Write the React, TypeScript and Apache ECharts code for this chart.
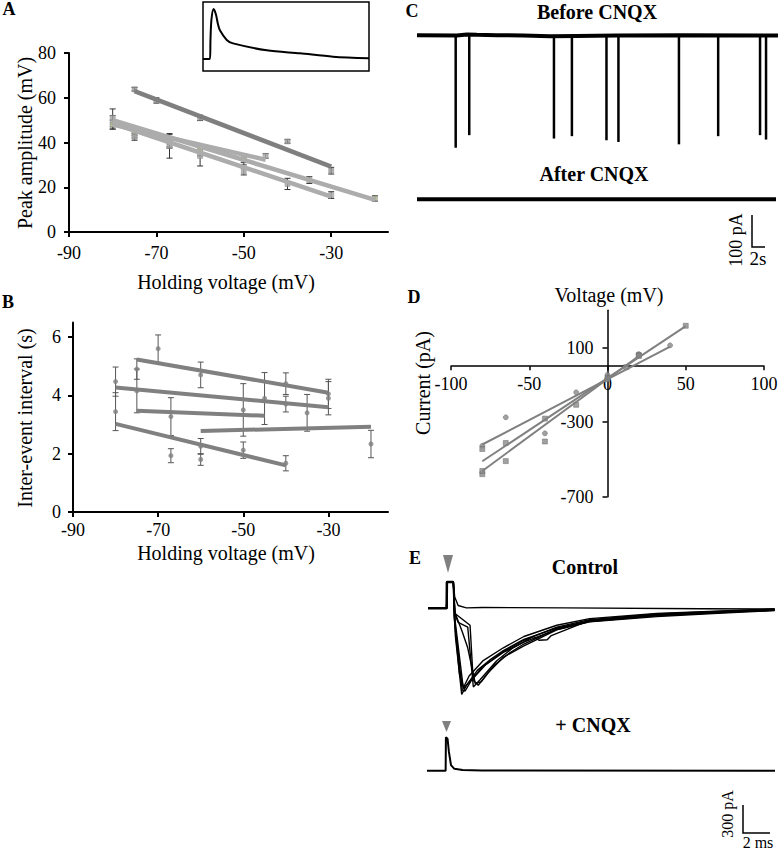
import React, { useEffect, useRef } from "react";
import * as echarts from "echarts";

const FONT = "'Liberation Serif', 'Times New Roman', serif";

// ---------- Panel A: peak amplitude (mV) vs holding voltage (mV) ----------
const aTicksX = [-90, -70, -50, -30];
const a1X = [-75, -70, -60, -40, -30];
const a1Y = [63.8, 58.8, 51, 40.5, 27.4];
const a1E = [0.8, 1.2, 1.2, 0.8, 1.5];
const a1Fit = [[-75, 63], [-30, 29.2]];

const a2X = [-80, -75, -67, -60, -50, -45];
const a2Y = [51, 44, 40.5, 36.5, 33, 34];
const a2E = [4, 2, 3, 2.5, 2, 1];
const a2Fit = [[-80, 48], [-45, 32.3]];

const a3X = [-80, -75, -67, -60, -50, -40, -30];
const a3Y = [49, 42.5, 38.5, 34, 27, 21.5, 16.5];
const a3E = [3, 1.5, 5.5, 4.5, 1.5, 2.5, 1.5];
const a3Fit = [[-80, 48.6], [-30, 15.8]];

const a4X = [-80, -75, -67, -60, -50, -35, -20];
const a4Y = [48, 45, 40, 37, 32.5, 23.2, 15];
const a4E = [2, 2, 2, 2, 2.5, 1.5, 1.2];
const a4Fit = [[-80, 50], [-20, 14.4]];

// inset: example response (arbitrary units)
const insetT = [0, 4.2, 4.5, 5.1, 6.4, 7.8, 9, 10.2, 14.3, 18.1, 38.4, 58.4, 78.3, 100];
const insetV = [17.4, 17.4, 45, 75, 90, 82, 68, 59, 45, 40, 30, 25.6, 20.8, 18.4];

// ---------- Panel B: inter-event interval (s) ----------
const bTicksY = [0, 2, 4, 6];
const b1X = [-75, -70, -60, -40, -30];
const b1Y = [4.9, 5.6, 4.7, 4.4, 4.05];
const b1E = [0.35, 0.47, 0.44, 0.37, 0.5];
const b1Fit = [[-75, 5.23], [-30, 4.09]];

const b2X = [-80, -75, -50, -40, -30];
const b2Y = [4.47, 4.15, 3.5, 3.7, 3.9];
const b2E = [0.5, 0.75, 0.9, 0.27, 0.57];
const b2Fit = [[-80, 4.27], [-30, 3.59]];

const b3X = [-67, -45];
const b3Y = [3.27, 3.89];
const b3E = [0.65, 0.89];
const b3Fit = [[-75, 3.47], [-45, 3.3]];

const b4X = [-80, -67, -60, -50, -40];
const b4Y = [3.44, 1.93, 2.25, 2.12, 1.67];
const b4E = [0.65, 0.24, 0.27, 0.28, 0.26];
const b4Fit = [[-80, 3.02], [-40, 1.6]];

const b5X = [-60, -35, -20];
const b5Y = [1.8, 3.4, 2.33];
const b5E = [0.2, 0.63, 0.47];
const b5Fit = [[-60, 2.78], [-20, 2.92]];

// ---------- Panel C: spontaneous currents (time s, current pA) ----------
const cEventTimes = [5.82, 7.86, 20.6, 23.3, 28.5, 30.3, 39.4, 45.3, 51.6, 52.5];
const cEventAmps = [331, 294, 304, 297, 309, 314, 321, 297, 294, 307];
const cBaseline = [[0, 0], [6, -1], [7.5, 2], [9, 1], [12, 0], [16, -1], [20, -3], [24, -2], [30, -1], [40, 0], [54.3, -1]];
const cAfter = [[0, 0], [54, 0]];

// ---------- Panel D: I-V relation ----------
const dTicksY = [-700, -300, 100];
const dV1 = [-80, -65, -40, -20, 0, 20, 40];
const dI1 = [-427, -274, -360, -140, -46, 65, 112];
const dFit1 = [[-80, -420], [40, 105]];
const dV2 = [-80, -65, -40, -20, 0, 20, 50];
const dI2 = [-444, -412, -281, -207, -63, 60, 217];
const dFit2 = [[-80, -510], [50, 215]];
const dV3 = [-80, -80, -65, -40, 0, 12, 20];
const dI3 = [-579, -562, -509, -404, -70, -5, 55];
const dFit3 = [[-80, -562], [20, 55]];

// ---------- Panel E: evoked currents (time ms, current pA) ----------
const eArtifact = [[0, 0], [1.36, 0], [1.38, 280], [1.85, 280]];
const eTraces = [
  [[1.9, 0], [2.0, -300], [2.46, -915], [2.8, -820], [3.6, -660], [4.6, -540], [5.5, -450], [7.0, -330], [9.4, -210], [11.8, -135], [16.7, -70], [21.5, -40], [25.3, -18]],
  [[1.95, -100], [2.58, -854], [3.0, -790], [4.0, -620], [5.5, -470], [7.0, -360], [9.4, -225], [11.8, -140], [16.7, -80], [21.5, -45], [25.3, -20]],
  [[1.97, -56], [3.07, -181], [3.3, -766], [3.67, -819], [4.3, -700], [5.5, -520], [7.0, -400], [9.4, -230], [11.8, -143], [16.7, -89], [21.5, -50], [25.3, -25]],
  [[1.97, -60], [2.2, -150], [2.9, -200], [3.31, -837], [3.8, -760], [5.0, -560], [6.2, -420], [7.7, -300], [8.1, -340], [8.7, -335], [9.0, -290], [11.8, -128], [16.7, -75], [21.5, -40], [25.3, -15]],
  [[2.0, -200], [2.5, -870], [2.7, -880], [3.2, -760], [4.2, -600], [5.5, -460], [7.0, -340], [9.4, -200], [11.8, -120], [16.7, -60], [21.5, -30], [25.3, -10]],
  [[1.95, -40], [2.5, -250], [2.9, -420], [3.45, -800], [3.9, -780], [4.8, -610], [6.0, -470], [7.0, -380], [9.4, -220], [11.8, -130], [16.7, -70], [21.5, -35], [25.3, -12]],
  [[1.9, -80], [2.3, -700], [2.6, -840], [3.0, -720], [4.0, -560], [5.5, -420], [7.0, -300], [9.4, -180], [11.8, -110], [16.7, -55], [21.5, -28], [25.3, -8]],
  [[1.95, 120], [2.2, 30], [2.8, 5], [4, 8], [10, 5], [20, -5], [25.3, -8]],
];
const eCnqx = [[0, 0], [1.36, 0], [1.38, 355], [1.5, 340], [1.6, 200], [1.75, 60], [2.0, 20], [2.6, 8], [4, 3], [25.4, 0]];

const zip3 = (xs: number[], ys: number[], es: number[]) => xs.map((x, i) => [x, ys[i], es[i]]);
const zip2 = (xs: number[], ys: number[]) => xs.map((x, i) => [x, ys[i]]);

const errRender = (color: string, cap: number) => (params: any, api: any) => {
  const x = api.value(0), y = api.value(1), e = api.value(2);
  const p1 = api.coord([x, y + e]);
  const p2 = api.coord([x, y - e]);
  const st = { stroke: color, lineWidth: 1 };
  return {
    type: "group",
    children: [
      { type: "line", shape: { x1: p1[0], y1: p1[1], x2: p2[0], y2: p2[1] }, style: st },
      { type: "line", shape: { x1: p1[0] - cap, y1: p1[1], x2: p1[0] + cap, y2: p1[1] }, style: st },
      { type: "line", shape: { x1: p2[0] - cap, y1: p2[1], x2: p2[0] + cap, y2: p2[1] }, style: st },
    ],
  };
};

const axisLbl = (extra: any = {}) => ({ fontFamily: FONT, fontSize: 18, color: "#000", ...extra });
const hidden = (gridIndex: number, min: number, max: number) => ({ type: "value", gridIndex, min, max, show: false, splitLine: { show: false } });

// Panel D grid geometry (axes cross at 0,0)
const D_LEFT = 451, D_TOP = 310.3, D_W = 313, D_H = 186.4;
const D_XMIN = -100, D_XMAX = 100, D_YMIN = -700, D_YMAX = 300;

function buildOption() {
  const series: any[] = [];
  // Panel A
  const aGroups = [
    { x: a1X, y: a1Y, e: a1E, fit: a1Fit, line: "#7f7f7f", mk: "#9a9a9a" },
    { x: a2X, y: a2Y, e: a2E, fit: a2Fit, line: "#acacac", mk: "#a8a8a8" },
    { x: a3X, y: a3Y, e: a3E, fit: a3Fit, line: "#acacac", mk: "#a8a8a8" },
    { x: a4X, y: a4Y, e: a4E, fit: a4Fit, line: "#acacac", mk: "#a9b98a" },
  ];
  aGroups.forEach((g) => {
    series.push({ type: "custom", xAxisIndex: 0, yAxisIndex: 0, data: zip3(g.x, g.y, g.e), renderItem: errRender("#333", 3), encode: { x: 0, y: 1 }, z: 2, silent: true });
    series.push({ type: "scatter", xAxisIndex: 0, yAxisIndex: 0, data: zip2(g.x, g.y), symbol: "rect", symbolSize: 5, itemStyle: { color: g.mk, borderColor: "#888", borderWidth: 0.6 }, z: 3, silent: true });
  });
  aGroups.forEach((g) => {
    series.push({ type: "line", xAxisIndex: 0, yAxisIndex: 0, data: g.fit, symbol: "none", lineStyle: { color: g.line, width: 4.5 }, z: 4, silent: true });
  });
  // inset
  series.push({ type: "line", xAxisIndex: 1, yAxisIndex: 1, data: zip2(insetT, insetV), symbol: "none", smooth: 0.3, lineStyle: { color: "#000", width: 2 }, silent: true });

  // Panel B
  const bGroups = [
    { x: b1X, y: b1Y, e: b1E, fit: b1Fit },
    { x: b2X, y: b2Y, e: b2E, fit: b2Fit },
    { x: b3X, y: b3Y, e: b3E, fit: b3Fit },
    { x: b4X, y: b4Y, e: b4E, fit: b4Fit },
    { x: b5X, y: b5Y, e: b5E, fit: b5Fit },
  ];
  bGroups.forEach((g) => {
    series.push({ type: "custom", xAxisIndex: 2, yAxisIndex: 2, data: zip3(g.x, g.y, g.e), renderItem: errRender("#555", 3), encode: { x: 0, y: 1 }, z: 2, silent: true });
    series.push({ type: "scatter", xAxisIndex: 2, yAxisIndex: 2, data: zip2(g.x, g.y), symbol: "circle", symbolSize: 5, itemStyle: { color: "#7f7f7f" }, z: 3, silent: true });
    series.push({ type: "line", xAxisIndex: 2, yAxisIndex: 2, data: g.fit, symbol: "none", lineStyle: { color: "#808080", width: 4 }, z: 4, silent: true });
  });

  // Panel C
  series.push({ type: "line", xAxisIndex: 3, yAxisIndex: 3, data: cBaseline, symbol: "none", lineStyle: { color: "#000", width: 4 }, silent: true });
  series.push({ type: "bar", xAxisIndex: 3, yAxisIndex: 3, data: zip2(cEventTimes, cEventAmps.map((a) => -a)), barWidth: 2.5, itemStyle: { color: "#000" }, silent: true });
  series.push({ type: "line", xAxisIndex: 4, yAxisIndex: 4, data: cAfter, symbol: "none", lineStyle: { color: "#000", width: 4 }, silent: true });

  // Panel D
  const dGroups = [
    { v: dV1, i: dI1, fit: dFit1, sym: "circle" },
    { v: dV2, i: dI2, fit: dFit2, sym: "rect" },
    { v: dV3, i: dI3, fit: dFit3, sym: "rect" },
  ];
  dGroups.forEach((g) => {
    series.push({ type: "line", xAxisIndex: 5, yAxisIndex: 5, data: g.fit, symbol: "none", lineStyle: { color: "#808080", width: 2 }, silent: true });
    series.push({ type: "scatter", xAxisIndex: 5, yAxisIndex: 5, data: zip2(g.v, g.i), symbol: g.sym, symbolSize: 5, itemStyle: { color: "#8a8a8a", borderColor: "#666", borderWidth: 0.6 }, silent: true });
  });

  // Panel E
  eTraces.forEach((tr) => {
    series.push({ type: "line", xAxisIndex: 6, yAxisIndex: 6, data: [...eArtifact, ...tr], symbol: "none", lineStyle: { color: "#000", width: 1.4 }, silent: true });
  });
  series.push({ type: "line", xAxisIndex: 6, yAxisIndex: 6, data: eArtifact, symbol: "none", lineStyle: { color: "#000", width: 2.5 }, silent: true });
  series.push({ type: "line", xAxisIndex: 7, yAxisIndex: 7, data: eCnqx, symbol: "none", lineStyle: { color: "#000", width: 2 }, silent: true });

  const txt = (text: string, x: number, y: number, size: number, bold = false, rot = 0) => ({
    type: "text",
    x,
    y,
    rotation: rot,
    silent: true,
    style: { text, fill: "#000", font: `${bold ? "bold " : ""}${size}px ${FONT}`, align: "center", verticalAlign: "middle" },
  });

  const graphic: any[] = [
    txt("A", 9, 9, 18, true),
    txt("B", 8, 302, 18, true),
    txt("C", 412, 11, 18, true),
    txt("D", 414, 297, 18, true),
    txt("E", 415, 558, 18, true),
    txt("Peak amplitude (mV)", 25, 143, 20, false, Math.PI / 2),
    txt("Holding voltage (mV)", 226, 282, 20),
    txt("Inter-event interval (s)", 25, 418, 20, false, Math.PI / 2),
    txt("Holding voltage (mV)", 226, 553, 20),
    txt("Before CNQX", 597, 12, 20, true),
    txt("After CNQX", 594, 174, 20, true),
    txt("100 pA", 736, 240, 18, false, Math.PI / 2),
    txt("2s", 758, 258, 19),
    txt("Voltage (mV)", 609, 295, 20),
    txt("Current (pA)", 423, 383, 20, false, Math.PI / 2),
    txt("Control", 585, 567, 20, true),
    txt("+ CNQX", 593, 725, 20, true),
    txt("300 pA", 727, 814, 16, false, Math.PI / 2),
    txt("2 ms", 758, 842, 16),
    { type: "polyline", silent: true, shape: { points: [[752, 215], [752, 247], [765, 247]] }, style: { stroke: "#000", lineWidth: 1.5, fill: null } },
    { type: "polyline", silent: true, shape: { points: [[743, 805], [743, 833], [770, 833]] }, style: { stroke: "#000", lineWidth: 1.5, fill: null } },
    { type: "polygon", silent: true, shape: { points: [[443, 555], [453, 555], [448, 573]] }, style: { fill: "#808080" } },
    { type: "polygon", silent: true, shape: { points: [[442, 721], [451, 721], [446.5, 732]] }, style: { fill: "#808080" } },
  ];

  // offsets that move D's axes onto the zero of the other axis
  const dXOffset = -D_H * (0 - D_YMIN) / (D_YMAX - D_YMIN);
  const dYOffset = -D_W * (0 - D_XMIN) / (D_XMAX - D_XMIN);

  const gridBase = { containLabel: false, outerBoundsMode: "none" };
  return {
    animation: false,
    backgroundColor: "#fff",
    grid: [
      { ...gridBase, left: 69, top: 53, width: 319, height: 179 },
      { ...gridBase, left: 203, top: 2, width: 166, height: 69, show: true, borderColor: "#000", borderWidth: 1.5, backgroundColor: "transparent" },
      { ...gridBase, left: 73, top: 322.4, width: 315, height: 189.6 },
      { ...gridBase, left: 417, top: 25, width: 361, height: 136 },
      { ...gridBase, left: 417, top: 189.3, width: 359, height: 20 },
      { ...gridBase, left: D_LEFT, top: D_TOP, width: D_W, height: D_H },
      { ...gridBase, left: 428, top: 575.4, width: 347, height: 126.9 },
      { ...gridBase, left: 427, top: 730.3, width: 348, height: 49.8 },
    ],
    xAxis: [
      {
        type: "value", gridIndex: 0, min: -90, max: -17,
        axisLine: { show: true, onZero: false, lineStyle: { color: "#000", width: 2 } },
        axisTick: { show: true, length: 5, customValues: aTicksX, lineStyle: { color: "#000", width: 2 } },
        axisLabel: axisLbl({ customValues: aTicksX, margin: 12 }),
        splitLine: { show: false },
      },
      hidden(1, 0, 100),
      {
        type: "value", gridIndex: 2, min: -90, max: -16,
        axisLine: { show: true, onZero: false, lineStyle: { color: "#000", width: 2 } },
        axisTick: { show: true, length: 5, customValues: aTicksX, lineStyle: { color: "#000", width: 2 } },
        axisLabel: axisLbl({ customValues: aTicksX, margin: 9 }),
        splitLine: { show: false },
      },
      hidden(3, 0, 54.3),
      hidden(4, 0, 54),
      {
        type: "value", gridIndex: 5, min: D_XMIN, max: D_XMAX, interval: 50,
        position: "bottom", offset: dXOffset,
        axisLine: { show: true, onZero: false, lineStyle: { color: "#000", width: 1.5 } },
        axisTick: { show: true, length: 4, lineStyle: { color: "#000", width: 1.5 } },
        axisLabel: axisLbl({ margin: 9 }),
        splitLine: { show: false },
      },
      hidden(6, 0, 25.33),
      hidden(7, 0, 25.4),
    ],
    yAxis: [
      {
        type: "value", gridIndex: 0, min: 0, max: 80, interval: 20,
        axisLine: { show: true, onZero: false, lineStyle: { color: "#000", width: 2 } },
        axisTick: { show: true, length: 5, lineStyle: { color: "#000", width: 2 } },
        axisLabel: axisLbl({ margin: 13 }),
        splitLine: { show: false },
      },
      hidden(1, 0, 100),
      {
        type: "value", gridIndex: 2, min: 0, max: 6.5,
        axisLine: { show: true, onZero: false, lineStyle: { color: "#000", width: 2 } },
        axisTick: { show: true, length: 5, customValues: bTicksY, lineStyle: { color: "#000", width: 2 } },
        axisLabel: axisLbl({ customValues: bTicksY, margin: 12 }),
        splitLine: { show: false },
      },
      hidden(3, -370, 30),
      hidden(4, -10, 10),
      {
        type: "value", gridIndex: 5, min: D_YMIN, max: D_YMAX,
        position: "left", offset: dYOffset,
        axisLine: { show: true, onZero: false, lineStyle: { color: "#000", width: 1.5 } },
        axisTick: { show: true, length: 5, customValues: dTicksY, lineStyle: { color: "#000", width: 1.5 } },
        axisLabel: axisLbl({ customValues: dTicksY, margin: 14 }),
        splitLine: { show: false },
      },
      hidden(6, -1000, 350),
      hidden(7, -100, 430),
    ],
    series,
    graphic: { elements: graphic },
  };
}

export default function App() {
  const ref = useRef<HTMLDivElement>(null);
  useEffect(() => {
    document.body.style.margin = "0";
    if (!ref.current) return;
    const chart = echarts.init(ref.current, null, { renderer: "svg" });
    chart.setOption(buildOption() as any);
    return () => chart.dispose();
  }, []);
  return <div ref={ref} style={{ width: 784, height: 852 }} />;
}
